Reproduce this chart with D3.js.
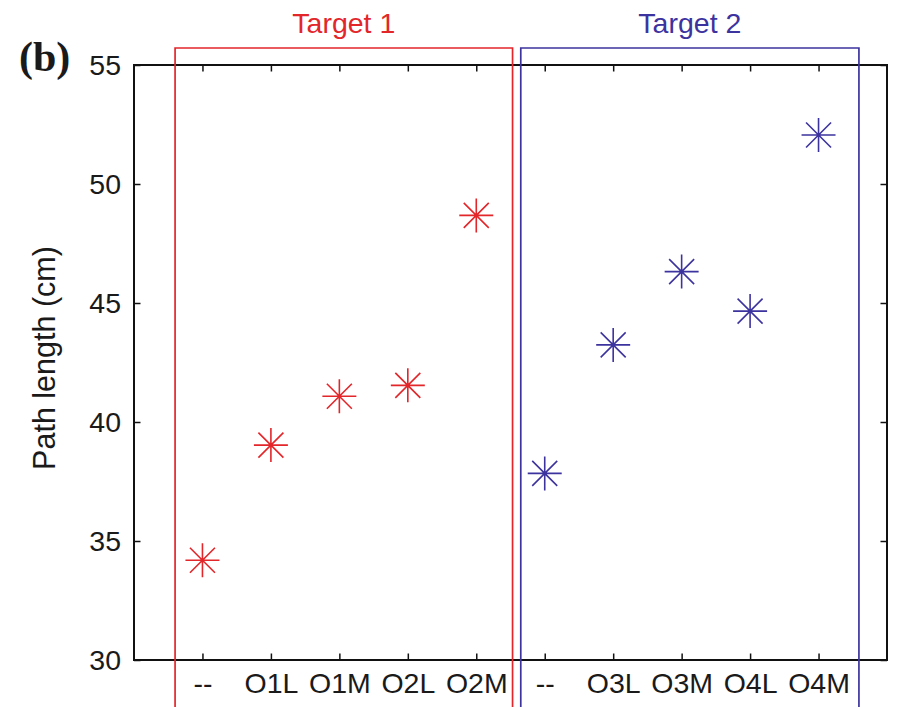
<!DOCTYPE html>
<html>
<head>
<meta charset="utf-8">
<script src="https://cdn.jsdelivr.net/npm/d3@7"></script>
<style>
  html, body { margin: 0; padding: 0; background: #fff; }
  svg { display: block; }
</style>
</head>
<body>
<svg id="chart" width="901" height="707"></svg>
<script>
// Path length per condition, grouped by target
const target1Labels = ["--", "O1L", "O1M", "O2L", "O2M"];
const target1Values = [34.19, 39.03, 41.08, 41.54, 48.68];
const target2Labels = ["--", "O3L", "O3M", "O4L", "O4M"];
const target2Values = [37.84, 43.24, 46.32, 44.66, 52.06];
const groupNames = ["Target 1", "Target 2"];
const yTicks = [30, 35, 40, 45, 50, 55];

const red = "#e2262a";
const blue = "#3d339f";
const sans = "'Liberation Sans', Arial, Helvetica, sans-serif";
const serif = "'Liberation Serif', 'Times New Roman', serif";

const svg = d3.select("#chart");
const W = 901, H = 707;
const m = { left: 134, top: 65, right: 887, bottom: 660 };

const groups = [
  { name: groupNames[0], labels: target1Labels, values: target1Values, color: red },
  { name: groupNames[1], labels: target2Labels, values: target2Values, color: blue }
];

// one entry per plotted condition, with a unique key for the point scale
const points = [];
groups.forEach((g, gi) => {
  g.labels.forEach((lab, i) => {
    points.push({ key: gi + ":" + i, label: lab, value: g.values[i], color: g.color, group: gi });
  });
});

const x = d3.scalePoint()
  .domain(points.map(d => d.key))
  .range([m.left, m.right])
  .padding(1);
const step = x.step();

const y = d3.scaleLinear().domain([30, 55]).range([m.bottom, m.top]);

const labelOf = new Map(points.map(d => [d.key, d.label]));
const tickLen = 6.5;

// bottom axis with inward ticks
const xAxisBottom = d3.axisBottom(x).tickSize(-tickLen).tickPadding(14)
  .tickFormat(k => labelOf.get(k));
const gxb = svg.append("g").attr("transform", `translate(0,${m.bottom})`).call(xAxisBottom);
gxb.select(".domain").remove();
gxb.selectAll("line").attr("stroke", "#111").attr("stroke-width", 1.5);
gxb.selectAll("text").style("font-family", sans).style("font-size", "28.5px")
  .attr("fill", "#1a1a1a").attr("dy", "0.71em").attr("y", 13);

// top mirrored ticks
const gxt = svg.append("g").attr("transform", `translate(0,${m.top})`)
  .call(d3.axisTop(x).tickSize(-tickLen).tickFormat(""));
gxt.select(".domain").remove();
gxt.selectAll("line").attr("stroke", "#111").attr("stroke-width", 1.5);

// left axis
const gyl = svg.append("g").attr("transform", `translate(${m.left},0)`)
  .call(d3.axisLeft(y).tickValues(yTicks).tickSize(-tickLen).tickPadding(13));
gyl.select(".domain").remove();
gyl.selectAll("line").attr("stroke", "#111").attr("stroke-width", 1.5);
gyl.selectAll("text").style("font-family", sans).style("font-size", "28.5px").attr("fill", "#1a1a1a");

// right mirrored ticks
const gyr = svg.append("g").attr("transform", `translate(${m.right},0)`)
  .call(d3.axisRight(y).tickValues(yTicks).tickSize(-tickLen).tickFormat(""));
gyr.select(".domain").remove();
gyr.selectAll("line").attr("stroke", "#111").attr("stroke-width", 1.5);

// plot frame
svg.append("rect")
  .attr("x", m.left).attr("y", m.top)
  .attr("width", m.right - m.left).attr("height", m.bottom - m.top)
  .attr("fill", "none").attr("stroke", "#111").attr("stroke-width", 2);

// group outlines, open below the plot
const boxPad = [[0.40, 0.53], [0.35, 0.59]];
const boxTop = 48;
groups.forEach((g, gi) => {
  const keys = points.filter(p => p.group === gi).map(p => p.key);
  const x0 = x(keys[0]) - boxPad[gi][0] * step;
  const x1 = x(keys[keys.length - 1]) + boxPad[gi][1] * step;
  svg.append("path")
    .attr("d", `M${x0},${H + 5}V${boxTop}H${x1}V${H + 5}`)
    .attr("fill", "none").attr("stroke", g.color).attr("stroke-width", 1.7);
  svg.append("text")
    .attr("x", (x0 + x1) / 2).attr("y", 32.5)
    .attr("text-anchor", "middle")
    .style("font-family", sans).style("font-size", "28.5px")
    .attr("fill", g.color).text(g.name);
});

// asterisk markers
const r = 17, rd = 12.5;
const star = `M${-r},0H${r}M0,${-r}V${r}M${-rd},${-rd}L${rd},${rd}M${-rd},${rd}L${rd},${-rd}`;
svg.append("g").selectAll("path.mk").data(points).join("path")
  .attr("class", "mk")
  .attr("transform", d => `translate(${x(d.key)},${y(d.value)})`)
  .attr("d", star)
  .attr("fill", "none").attr("stroke", d => d.color).attr("stroke-width", 1.6);

// y-axis title
svg.append("text")
  .attr("transform", `translate(55,358) rotate(-90)`)
  .attr("text-anchor", "middle")
  .style("font-family", sans).style("font-size", "30.5px")
  .attr("fill", "#1a1a1a")
  .text("Path length (cm)");

// panel letter
svg.append("text")
  .attr("x", 19).attr("y", 71)
  .style("font-family", serif).style("font-weight", "bold").style("font-size", "42px")
  .attr("fill", "#1a1a1a")
  .text("(b)");
</script>
</body>
</html>
